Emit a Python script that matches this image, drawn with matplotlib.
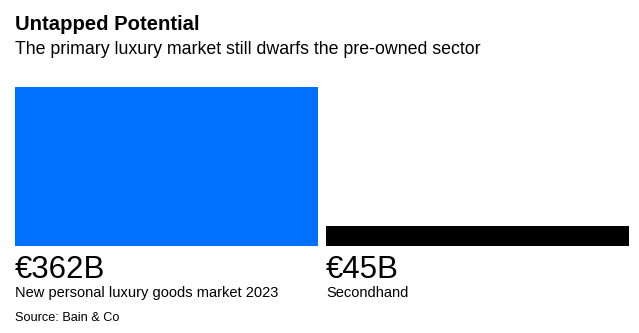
import matplotlib
matplotlib.use("Agg")
import matplotlib.pyplot as plt

categories = ["New personal luxury goods market 2023", "Secondhand"]
values = [362, 45]
value_labels = ["€362B", "€45B"]
colors = ["#0070FF", "#000000"]

W, H = 639, 333
fig = plt.figure(figsize=(W / 100, H / 100), dpi=100)
plt.rcParams['font.family'] = ['Liberation Sans', 'DejaVu Sans']

# axes placed in pixel coords: left 15, right 629, top 87, bottom 246
ax = fig.add_axes([15 / W, 1 - 246 / H, 614 / W, 159 / H])
w = 0.974
x = list(range(len(values)))
ax.bar(x, values, width=w, color=colors)
ax.set_xlim(-w / 2, len(values) - 1 + w / 2)
ax.set_ylim(0, max(values))
ax.axis("off")

fig.text(15 / W, 1 - 30 / H, "Untapped Potential", fontsize=14.6, fontweight="bold",
         va="baseline", ha="left")
fig.text(15 / W, 1 - 54 / H, "The primary luxury market still dwarfs the pre-owned sector",
         fontsize=12.8, va="baseline", ha="left")

for i, (lab, cat) in enumerate(zip(value_labels, categories)):
    xpix = ax.transData.transform((i - w / 2, 0))[0]
    fig.text(xpix / W, 1 - 278 / H, lab, fontsize=22.5, va="baseline", ha="left")
    fig.text(xpix / W, 1 - 297 / H, cat, fontsize=10.5, va="baseline", ha="left")

fig.text(15 / W, 1 - 321 / H, "Source: Bain & Co", fontsize=9.2, va="baseline", ha="left")

fig.savefig("out.png", dpi=100)
